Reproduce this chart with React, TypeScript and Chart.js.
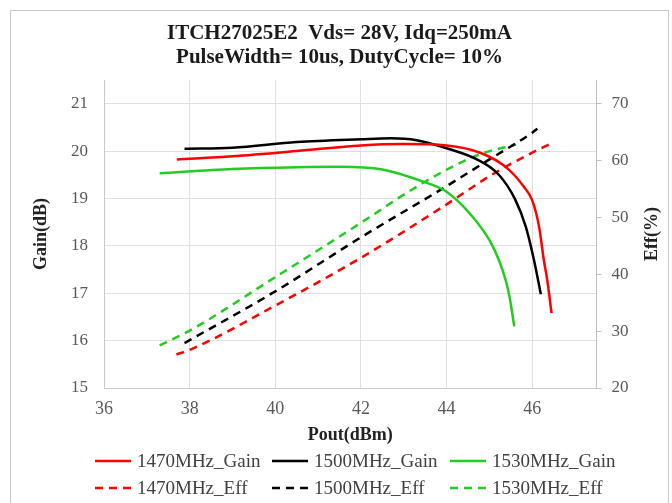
import React, { useEffect, useRef } from 'react';
import { Chart, registerables } from 'chart.js';

Chart.register(...registerables);

// ---------- data ----------
const titleLines = ['ITCH27025E2  Vds= 28V, Idq=250mA', 'PulseWidth= 10us, DutyCycle= 10%'];
const xTicks = [36, 38, 40, 42, 44, 46];
const gainTicks = [15, 16, 17, 18, 19, 20, 21];
const effTicks = [20, 30, 40, 50, 60, 70];

const seriesLabels = ['1470MHz_Gain', '1500MHz_Gain', '1530MHz_Gain', '1470MHz_Eff', '1500MHz_Eff', '1530MHz_Eff'];

const gain1470X = [37.7, 39.0, 40.5, 42.0, 43.0, 44.0, 44.8, 45.4, 45.8, 46.0, 46.16, 46.27, 46.35, 46.45];
const gain1470Y = [19.82, 19.89, 20.0, 20.12, 20.15, 20.12, 19.96, 19.65, 19.25, 18.96, 18.4, 17.7, 17.28, 16.58];

const gain1500X = [37.88, 39.0, 40.5, 42.0, 42.7, 43.3, 44.0, 44.76, 45.22, 45.6, 45.85, 46.04, 46.2];
const gain1500Y = [20.05, 20.07, 20.19, 20.25, 20.27, 20.23, 20.06, 19.8, 19.5, 18.98, 18.4, 17.7, 16.98];

const gain1530X = [37.3, 39.0, 40.5, 41.5, 42.5, 43.4, 44.0, 44.6, 45.0, 45.22, 45.38, 45.47, 45.58];
const gain1530Y = [19.53, 19.62, 19.66, 19.67, 19.61, 19.37, 19.14, 18.62, 18.12, 17.7, 17.27, 16.92, 16.3];

const eff1470X = [37.69, 38.0, 40.0, 42.0, 44.0, 45.0, 46.0, 46.41];
const eff1470Y = [25.9, 26.7, 34.5, 42.9, 52.3, 57.25, 61.4, 62.9];

const eff1500X = [37.88, 40.0, 42.0, 44.0, 45.0, 46.0, 46.12];
const eff1500Y = [27.9, 37.0, 46.5, 55.5, 60.2, 64.9, 65.6];

const eff1530X = [37.3, 38.0, 40.0, 42.0, 43.0, 44.0, 44.83, 45.62];
const eff1530Y = [27.5, 30.1, 39.5, 49.05, 54.0, 58.4, 61.25, 62.8];

const RED = '#ff0000';
const BLACK = '#000000';
const GREEN = '#22cc22';

const FONT = '"Liberation Serif", "Times New Roman", serif';

function zip(xs: number[], ys: number[]) {
  return xs.map((x, i) => ({ x, y: ys[i] }));
}

const framePlugin = {
  id: 'frame',
  beforeDraw(chart: any) {
    const ctx = chart.ctx;
    ctx.save();
    ctx.fillStyle = '#ffffff';
    ctx.fillRect(0, 0, chart.width, chart.height);
    ctx.strokeStyle = '#c8c8c8';
    ctx.lineWidth = 1;
    ctx.strokeRect(10.5, 10.5, 658, 510);
    ctx.restore();
  },
};

const extrasPlugin = {
  id: 'extras',
  afterDraw(chart: any) {
    const ctx = chart.ctx;
    const area = chart.chartArea;
    ctx.save();
    // right axis title, rotated like the left one
    ctx.font = `bold 18px ${FONT}`;
    ctx.fillStyle = '#222222';
    ctx.textAlign = 'center';
    ctx.textBaseline = 'middle';
    ctx.translate(chart.scales.eff.right - 17, (area.top + area.bottom) / 2);
    ctx.rotate(-Math.PI / 2);
    ctx.fillText('Eff(%)', 0, 0);
    ctx.restore();

    // legend, 2 rows x 3 columns
    const colX = [95, 272, 450];
    const rowY = [461, 488];
    ctx.save();
    ctx.font = `19px ${FONT}`;
    ctx.textBaseline = 'middle';
    ctx.textAlign = 'left';
    chart.data.datasets.forEach((ds: any, i: number) => {
      const col = i % 3;
      const row = Math.floor(i / 3);
      const x0 = colX[col];
      const y = rowY[row];
      ctx.save();
      ctx.strokeStyle = ds.borderColor;
      ctx.lineWidth = 2.5;
      ctx.setLineDash(ds.borderDash || []);
      ctx.beginPath();
      ctx.moveTo(x0, y);
      ctx.lineTo(x0 + 36, y);
      ctx.stroke();
      ctx.restore();
      ctx.fillStyle = '#404040';
      ctx.fillText(ds.label, x0 + 42, y + 1);
    });
    ctx.restore();
  },
};

export default function App() {
  const ref = useRef<HTMLCanvasElement | null>(null);

  useEffect(() => {
    if (!ref.current) return;
    const mk = (label: string, xs: number[], ys: number[], color: string, dashed: boolean) => ({
      label,
      data: zip(xs, ys),
      borderColor: color,
      backgroundColor: color,
      borderWidth: 2.5,
      borderDash: dashed ? [8, 6] : [],
      pointRadius: 0,
      cubicInterpolationMode: 'monotone' as const,
      yAxisID: dashed ? 'eff' : 'gain',
      fill: false,
    });

    const chart = new Chart(ref.current, {
      type: 'line',
      data: {
        datasets: [
          mk(seriesLabels[0], gain1470X, gain1470Y, RED, false),
          mk(seriesLabels[1], gain1500X, gain1500Y, BLACK, false),
          mk(seriesLabels[2], gain1530X, gain1530Y, GREEN, false),
          mk(seriesLabels[3], eff1470X, eff1470Y, RED, true),
          mk(seriesLabels[4], eff1500X, eff1500Y, BLACK, true),
          mk(seriesLabels[5], eff1530X, eff1530Y, GREEN, true),
        ],
      },
      options: {
        responsive: false,
        animation: false,
        layout: { padding: { left: 10, right: 3, top: 0, bottom: 53 } },
        plugins: {
          legend: { display: false },
          tooltip: { enabled: false },
          title: {
            display: true,
            text: titleLines,
            color: '#1a1a1a',
            font: { family: FONT, size: 21, weight: 'bold', lineHeight: '24px' },
            padding: { top: 22, bottom: 10 },
          },
        },
        scales: {
          x: {
            type: 'linear',
            min: 36,
            max: 47.5,
            afterBuildTicks: (s: any) => {
              s.ticks = xTicks.map((v) => ({ value: v }));
            },
            afterFit: (s: any) => {
              s.height = 62;
            },
            grid: { color: '#e0e0e0', drawTicks: false },
            border: { color: '#c8c8c8' },
            ticks: {
              color: '#595959',
              padding: 10,
              font: { family: FONT, size: 18 },
            },
            title: {
              display: true,
              text: 'Pout(dBm)',
              color: '#222222',
              font: { family: FONT, size: 18, weight: 'bold', lineHeight: 1.2 },
              padding: { top: 6, bottom: 4 },
            },
          },
          gain: {
            type: 'linear',
            position: 'left',
            min: 15,
            max: 21.5,
            afterBuildTicks: (s: any) => {
              s.ticks = gainTicks.map((v) => ({ value: v }));
            },
            afterFit: (s: any) => {
              s.width = 94;
            },
            grid: { color: '#e0e0e0', drawTicks: false },
            border: { color: '#c8c8c8' },
            ticks: {
              color: '#595959',
              padding: 16,
              font: { family: FONT, size: 17 },
            },
            title: {
              display: true,
              text: 'Gain(dB)',
              color: '#222222',
              font: { family: FONT, size: 18, weight: 'bold', lineHeight: 1.2 },
              padding: { top: 21, bottom: 0 },
            },
          },
          eff: {
            type: 'linear',
            position: 'right',
            min: 20,
            max: 20 + (6.5 * 50) / 6,
            afterBuildTicks: (s: any) => {
              s.ticks = effTicks.map((v) => ({ value: v }));
            },
            afterFit: (s: any) => {
              s.width = 72.5;
            },
            grid: {
              drawOnChartArea: false,
              drawTicks: true,
              tickLength: 5,
              color: '#bfbfbf',
            },
            border: { color: '#bfbfbf' },
            ticks: {
              color: '#595959',
              padding: 10,
              font: { family: FONT, size: 17 },
            },
          },
        },
      },
      plugins: [framePlugin, extrasPlugin],
    } as any);

    return () => chart.destroy();
  }, []);

  return (
    <div style={{ position: 'fixed', left: 0, top: 0, width: 672, height: 503, background: '#fff' }}>
      <canvas ref={ref} width={672} height={503} style={{ display: 'block' }} />
    </div>
  );
}
